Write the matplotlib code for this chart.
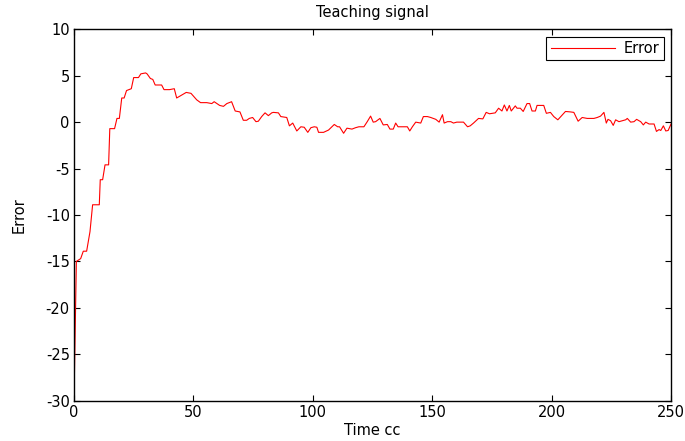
import matplotlib
matplotlib.use("Agg")
import matplotlib.pyplot as plt

time_cc = [0, 1, 2.8, 3.9, 5.3, 6.7, 7.8, 10.6, 11, 12, 13, 14.5, 15, 17, 18, 19, 20, 21, 22, 24, 25,
           27, 28, 30, 30.6, 32, 33, 34, 36.7, 37.7, 40, 42, 43, 45, 47, 49, 51.4, 53, 55.6, 57.7,
           58.7, 61, 62.6, 64, 66, 67.5, 69.5, 70.9, 72.3, 73.4, 74.8, 76.2, 77.2, 78.6, 80, 81.4,
           82.8, 83.5, 85.6, 86.6, 89.1, 90.2, 91.6, 93.3, 95, 96.4, 97.9, 99.2, 100.6, 101.7,
           102.4, 104.5, 106.6, 109, 110.4, 111.2, 112.9, 114.3, 116.4, 117.9, 119.3, 121.4,
           122.8, 124.2, 125.3, 126.3, 128.1, 129.5, 131.2, 132.3, 133.7, 134.7, 135.7, 138.2,
           139.6, 140.6, 141.7, 143.1, 145.2, 146.3, 148, 149.4, 151.5, 152.9, 154.3, 155, 156.4,
           157.8, 158.9, 160.3, 163.1, 164.8, 165.9, 167.3, 169.4, 171.2, 172.6, 174, 176.4,
           177.8, 179.2, 180.2, 181.3, 182.3, 183.1, 184.8, 185.5, 186.9, 188.1, 189.7, 190.8,
           191.8, 193.2, 193.9, 196.7, 197.8, 199.5, 200.9, 202.6, 204, 205.8, 207.9, 209.3,
           211.1, 212.8, 214.9, 216.3, 217.7, 219.1, 220.5, 221.9, 222.9, 223.6, 224.7, 225.8,
           226.8, 228.2, 229.6, 231, 231.7, 233.1, 234.5, 235.6, 237.3, 238.4, 239.4, 240.8,
           242.9, 243.9, 245, 245.7, 246.8, 247.8, 248.8, 250]
error = [-30, -15, -14.7, -13.9, -13.9, -11.8, -8.9, -8.9, -6.2, -6.2, -4.6, -4.6, -0.7, -0.7,
         0.4, 0.4, 2.6, 2.6, 3.4, 3.6, 4.8, 4.8, 5.2, 5.3, 5.2, 4.7, 4.6, 4.0, 4.0, 3.5, 3.5,
         3.6, 2.6, 2.9, 3.2, 3.1, 2.4, 2.1, 2.1, 2.0, 2.2, 1.8, 1.7, 2.0, 2.2, 1.2, 1.1, 0.2,
         0.2, 0.4, 0.5, 0.05, 0.1, 0.6, 1.0, 0.7, 1.0, 1.05, 1.0, 0.6, 0.5, -0.4, -0.1, -0.95,
         -0.5, -0.55, -1.1, -0.6, -0.5, -0.55, -1.1, -1.1, -0.85, -0.25, -0.5, -0.5, -1.2,
         -0.65, -0.75, -0.6, -0.5, -0.5, 0.05, 0.65, 0.0, 0.05, 0.4, -0.3, -0.25, -0.75, -0.75,
         -0.1, -0.5, -0.5, -0.5, -0.95, -0.5, 0.0, -0.1, 0.6, 0.6, 0.5, 0.3, 0.0, 0.8, -0.1,
         0.05, 0.05, -0.1, 0.0, 0.0, -0.5, -0.4, -0.1, 0.4, 0.35, 1.05, 0.9, 1.0, 1.5, 1.2,
         1.85, 1.2, 1.8, 1.2, 1.75, 1.5, 1.5, 1.15, 2.0, 2.0, 1.2, 1.2, 1.8, 1.8, 0.95, 1.05,
         0.6, 0.25, 0.65, 1.15, 1.1, 1.05, 0.1, 0.5, 0.4, 0.4, 0.4, 0.5, 0.65, 1.05, -0.1, 0.3,
         0.15, -0.35, 0.25, 0.05, 0.15, 0.25, 0.4, -0.0, 0.05, 0.3, 0.05, -0.3, -0.0, -0.2,
         -0.2, -1.0, -0.8, -0.9, -0.4, -0.95, -0.9, -0.2]

xticks = [0, 50, 100, 150, 200, 250]
yticks = [-30, -25, -20, -15, -10, -5, 0, 5, 10]

plt.rcParams['font.family'] = ['DejaVu Sans']
plt.rcParams['axes.unicode_minus'] = False
fs = 10.5
fig = plt.figure(figsize=(6.85, 4.41), dpi=100)
ax = fig.add_axes([0.108, 0.0914, 0.8716, 0.8422])
ax.plot(time_cc, error, color='red', lw=0.8, label='Error')
ax.set_xlim(0, 250)
ax.set_ylim(-30, 10)
ax.set_xticks(xticks)
ax.set_yticks(yticks)
ax.tick_params(direction='in', top=True, right=True, labelsize=fs, length=4, width=0.8, pad=3)
for s in ax.spines.values():
    s.set_linewidth(1.0)
ax.set_title('Teaching signal', fontsize=fs, pad=9)
ax.set_xlabel('Time cc', fontsize=fs, labelpad=2)
ax.set_ylabel('Error', fontsize=fs, labelpad=14)
leg = ax.legend(loc='upper right', fontsize=fs, fancybox=False, edgecolor='black',
                framealpha=1, handlelength=4.4, handletextpad=0.6, borderpad=0.3,
                borderaxespad=0.5)
leg.get_frame().set_linewidth(0.8)
fig.savefig('out.png', dpi=100)
